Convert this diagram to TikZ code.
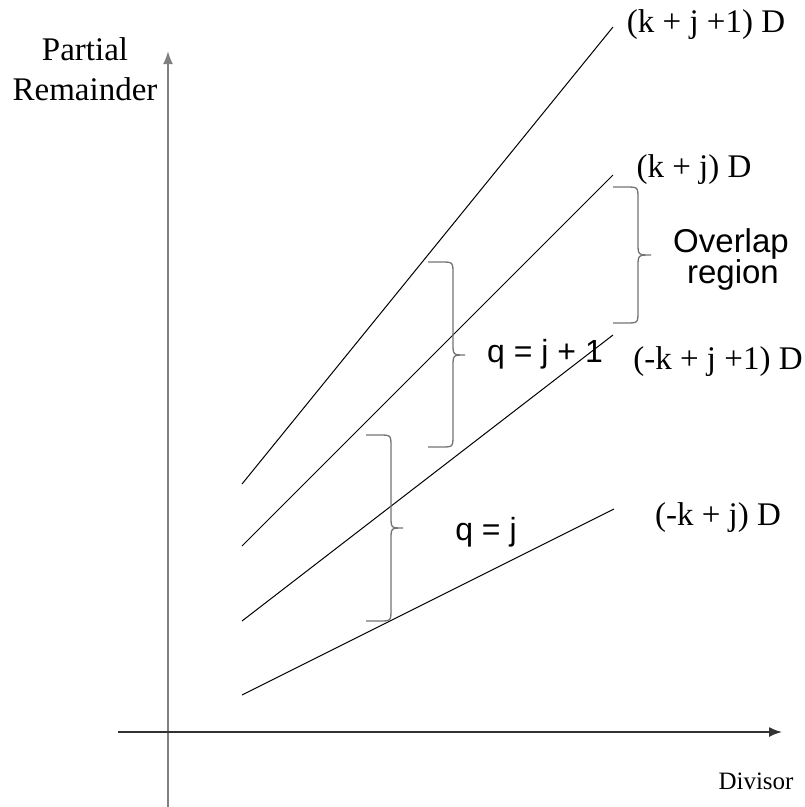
\documentclass[tikz,border=0pt]{standalone}
\usepackage{fontspec}
\usetikzlibrary{arrows.meta}
\setmainfont{Liberation Serif}
\newfontfamily\arialfont{Liberation Sans}
\begin{document}
\begin{tikzpicture}[x=1pt,y=-1pt,
  serif/.style={font=\fontsize{33}{40}\selectfont, inner sep=0pt},
  sans/.style={font=\arialfont\fontsize{33}{36}\selectfont, inner sep=0pt},
  boundary/.style={line width=1pt, black},
  bracestyle/.style={line width=1.3pt, gray!90!black},
  vaxis/.style={line width=2pt, gray, -{Latex[length=13pt,width=10pt]}},
  haxis/.style={line width=1.6pt, black!80, -{Latex[length=13pt,width=10pt]}}]
\useasboundingbox (0,0) rectangle (805,807);
% axes
\coordinate (vb) at (168,807);
\coordinate (vt) at (168,51);
\coordinate (hl) at (118,732);
\coordinate (hr) at (782,732);
\draw[vaxis] (vb) -- (vt);
\draw[haxis] (hl) -- (hr);
% boundary lines
\coordinate (a1) at (242,484); \coordinate (b1) at (613,27);
\coordinate (a2) at (242,546); \coordinate (b2) at (613,175);
\coordinate (a3) at (242,621); \coordinate (b3) at (613,335);
\coordinate (a4) at (242,695); \coordinate (b4) at (614,509);
\draw[boundary] (a1) -- (b1);
\draw[boundary] (a2) -- (b2);
\draw[boundary] (a3) -- (b3);
\draw[boundary] (a4) -- (b4);
% labels
\node[serif] (l1) at (706,25) {(k + j +1) D};
\node[serif] (l2) at (694,170) {(k + j) D};
\node[serif] (l3) at (718,362) {(-k + j +1) D};
\node[serif] (l4) at (718,518) {(-k + j) D};
\node[serif, anchor=base] (yl1) at (85,60) {Partial};
\node[serif, anchor=base] (yl2) at (85,100) {Remainder};
\node[font=\fontsize{25}{28}\selectfont, inner sep=0pt, anchor=base] (xl) at (756,789) {Divisor};
\node[sans, anchor=base] (ov1) at (731,252) {Overlap};
\node[sans, anchor=base] (ov2) at (733,283) {region};
\node[sans, font=\arialfont\fontsize{32}{36}\selectfont, anchor=base] (q1) at (545,362) {q = j + 1};
\node[sans, font=\arialfont\fontsize{32}{36}\selectfont, anchor=base] (q0) at (486,540) {q = j};
% braces
\draw[bracestyle] (613,187) -- (626,187) .. controls (638,187) .. (638,199) -- (638,243)
  .. controls (638,255) .. (651,255) .. controls (638,255) .. (638,267) -- (638,311)
  .. controls (638,323) .. (626,323) -- (613,323);
\draw[bracestyle] (428,262) -- (441,262) .. controls (453,262) .. (453,274) -- (453,343)
  .. controls (453,355) .. (465,355) .. controls (453,355) .. (453,367) -- (453,435)
  .. controls (453,447) .. (441,447) -- (428,447);
\draw[bracestyle] (366,435) -- (379,435) .. controls (391,435) .. (391,447) -- (391,516)
  .. controls (391,528) .. (403,528) .. controls (391,528) .. (391,540) -- (391,609)
  .. controls (391,621) .. (379,621) -- (366,621);
\end{tikzpicture}
\end{document}
